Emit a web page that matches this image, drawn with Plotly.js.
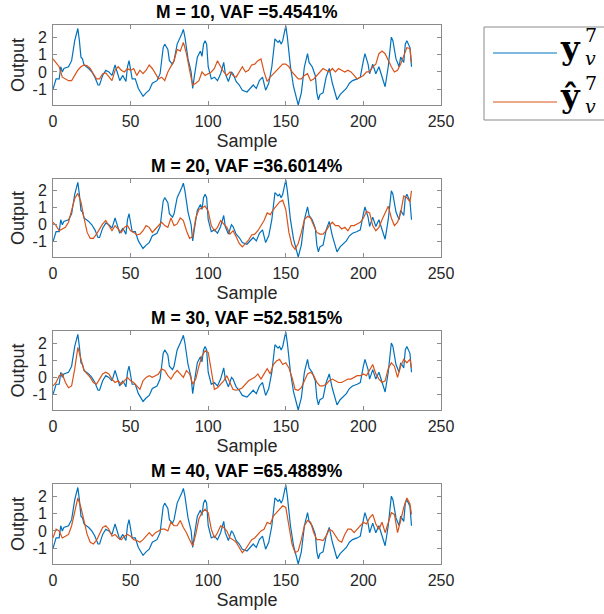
<!DOCTYPE html>
<html>
<head>
<meta charset="utf-8">
<script src="https://cdn.plot.ly/plotly-3.0.1.min.js"></script>
<style>html,body{margin:0;padding:0;background:#fff;}#chart{width:604px;height:614px;}</style>
</head>
<body>
<div id="chart"></div>
<script>
// ---- data ----
const titles = ["M = 10, VAF =5.4541%", "M = 20, VAF =36.6014%", "M = 30, VAF =52.5815%", "M = 40, VAF =65.4889%"];
const xTicks = [0, 50, 100, 150, 200, 250];
const yTicks = [-1, 0, 1, 2];

// measured output (same in every panel)
const blueX = [0,2,4,5,6,7,10,12,14,16,17,18,19,20,23,25,27,29,30,32,34,36,38,40,41,43,45,47,48,49,51,53,55,57,58,60,62,64,67,69,71,72,74,75,77,78,80,83,84,85,87,89,90,91,93,95,96,97,98,99,100,102,104,106,108,110,111,113,115,116,118,120,122,125,127,129,131,133,135,137,139,141,143,145,146,147,148,150,151,153,155,157,158,160,162,164,165,167,169,170,171,172,174,176,178,180,182,183,185,187,189,191,193,196,198,200,201,203,204,206,207,208,210,212,214,216,217,218,219,221,223,224,226,227,228,230,231];
const blueY = [-1.0,-0.4,-0.4,0.3,0.0,0.2,0.3,0.65,1.8,2.5,1.8,0.85,0.75,0.4,0.2,0.0,-0.3,-0.75,-0.75,-0.2,0.1,0.0,-0.2,0.4,0.1,-0.5,-0.2,-0.55,0.3,0.65,-0.4,-0.4,-0.95,-1.3,-1.4,-1.2,-1.05,-0.65,-0.5,-0.1,1.4,1.6,1.3,0.65,0.45,0.65,1.6,2.2,2.45,2.0,0.75,0.0,-0.95,-0.3,0.85,1.2,0.9,1.6,1.8,1.6,0.3,-0.4,-0.3,-0.5,-0.1,0.55,-0.1,-0.55,0.0,-0.1,-0.55,-0.75,-1.05,-1.15,-0.95,-0.75,-0.95,-0.5,-0.3,-1.05,-0.65,0.3,1.9,1.7,1.8,1.6,1.8,2.65,2.0,0.3,-0.85,-1.6,-1.9,-1.2,0.3,1.05,0.55,0.3,-0.2,-1.2,-1.6,-1.3,-1.2,-0.3,0.2,-0.65,-1.3,-1.6,-1.3,-1.15,-0.95,-0.65,-0.5,-0.4,-0.3,0.65,1.05,0.45,-0.1,0.45,0.1,-0.1,0.3,-0.3,-0.85,0.3,1.2,2.0,1.8,0.75,0.3,0.85,0.55,1.6,1.8,1.4,0.3];

// model outputs
const predX = [0,2,4,6,8,10,12,14,16,18,20,22,24,26,28,30,32,34,36,38,40,42,44,46,48,50,52,54,56,58,60,62,64,66,68,70,72,74,76,78,80,82,84,86,88,90,92,94,96,98,100,102,104,106,108,110,112,114,116,118,120,122,124,126,128,130,132,134,136,138,140,142,144,146,148,150,152,154,156,158,160,162,164,166,168,170,172,174,176,178,180,182,184,186,188,190,192,194,196,198,200,202,204,206,208,210,212,214,216,218,220,222,224,226,228,230,231];
const predM10 = [0.75,0.55,0.3,-0.3,-0.4,-0.5,-0.5,-0.2,0.1,0.3,0.4,0.35,0.2,-0.1,-0.4,-0.4,-0.1,-0.05,-0.3,-0.5,0.1,0.3,0.1,0,0.2,0.1,0.2,-0.2,0.1,-0.1,0.1,0.4,0.2,-0.1,-0.4,-0.3,-0.5,0,0.3,0.65,1.3,1.2,1.7,1.05,0.1,-0.75,-0.65,-0.5,0,-0.2,-0.1,0,0.2,0.65,0.3,0,-0.2,0,-0.2,-0.3,0,0.3,0,0.1,0.4,0.45,0.65,0.75,0,-0.55,-0.3,-0.1,0.1,0.3,0.45,0.45,0.3,0,-0.2,-0.4,-0.4,-0.2,-0.1,-0.5,-0.4,-0.2,0,0.2,0.1,0,0.2,0,0.2,0.1,0,0.1,0,-0.2,-0.4,-0.3,-0.2,0,0,0.3,0.45,1.05,1.2,1.05,0.65,0.3,0,0.1,0.45,0.95,1.4,1.35,0.55];
const predM20 = [0.15,-0.05,-0.35,-0.25,-0.15,0.15,0.8,1.55,1.85,1.35,0.4,-0.45,-0.8,-0.8,-0.55,-0.25,0.05,0.25,-0.05,-0.35,-0.05,-0.25,-0.45,-0.15,-0.05,-0.35,-0.45,-0.6,-0.55,-0.35,-0.05,-0.15,-0.45,-0.25,-0.05,0.15,-0.05,-0.15,0.4,-0.05,0.05,0.4,0.25,-0.35,-0.8,-0.7,0.4,0.9,1.0,1.1,0.8,-0.05,-0.35,-0.15,0.25,0.05,-0.15,-0.55,-0.35,-0.7,-1.1,-1.3,-1.1,-0.9,-0.6,-0.55,-0.35,-0.05,0.25,0.7,0.6,0.9,1.15,1.35,1.45,0.9,-0.45,-1.2,-1.45,-1.1,-0.45,0.3,0.5,0.4,-0.05,-0.45,-0.55,-0.55,-0.35,-0.05,0.15,-0.05,-0.05,-0.25,-0.15,-0.35,-0.05,-0.05,0.05,0.15,0.4,0.8,0.7,-0.05,-0.35,-0.15,0.3,0.7,1.1,0.4,-0.05,0.15,0.7,1.7,1.6,1.35,2.0];
const predM30 = [-0.5,-0.3,0.1,0.2,-0.3,-0.6,-0.5,0.5,1.75,1.05,0.4,0.2,0,-0.3,-0.4,-0.1,0.2,0.3,0.2,-0.1,-0.3,-0.2,-0.4,-0.2,0,-0.2,-0.3,-0.5,-0.7,-0.2,0,0.1,0,0.1,0.2,0.5,0.4,0.1,-0.1,0.2,0.4,0.2,0,0.4,0.2,-0.4,-0.1,0.65,1.25,1.55,1.45,0.4,-0.7,-0.6,-0.4,-0.2,0.1,-0.3,-0.7,-0.75,-0.7,-0.6,-0.4,-0.2,-0.1,0,0.2,-0.1,0.2,0.5,0.2,0.75,0.95,1.05,0.75,0.85,0.55,0,-0.7,-0.75,-0.6,-0.2,0.2,0.3,0.1,-0.3,-0.5,-0.5,-0.4,-0.2,-0.1,-0.2,-0.3,-0.3,-0.2,-0.1,-0.1,0,0.1,0.1,0.2,0.1,0.4,0.75,0.2,-0.1,-0.3,-0.2,0.5,0.85,0.65,0,0.65,1.05,0.85,1.05,0.55];
const predM40 = [-0.4,0.1,0,-0.4,-0.3,-0.2,0.3,1.15,1.9,1.35,0.6,-0.2,-0.65,-0.75,-0.55,-0.2,0.2,0.3,0.1,-0.3,-0.2,-0.4,-0.5,-0.3,-0.2,-0.3,-0.5,-0.55,-0.65,-0.5,-0.3,-0.1,-0.3,-0.1,0,0.1,0.1,0,0.5,0.3,0.3,0.6,0.2,-0.1,-0.5,-0.85,-0.2,0.7,1.05,1.25,1.05,0.1,-0.4,-0.1,0.3,0.2,0,-0.4,-0.5,-0.65,-0.95,-1.25,-1.05,-0.75,-0.5,-0.4,-0.2,0,0.1,0.5,0.4,0.85,1.05,1.25,1.45,1.35,0.2,-0.75,-1.25,-1.15,-0.5,0.3,0.6,0.5,-0.1,-0.5,-0.5,-0.55,-0.3,0.1,0,-0.3,-0.55,-0.65,-0.2,0.1,0.1,-0.1,0.1,0.3,0.5,0.4,0.75,0.95,0.4,0.1,0.5,-0.1,0.5,1.05,0.95,-0.1,0.6,1.35,1.9,1.55,0.95];
const predictions = [predM10, predM20, predM30, predM40];

// ---- layout helpers ----
const W = 604, H = 614;
const BLUE = '#0072BD', ORANGE = '#D95319';
const plotLeft = 53, plotRight = 441;
const panelTops = [25, 179, 331, 484];
const panelBottoms = [105, 257, 410, 564];
const px = v => v / W;
const py = v => 1 - v / H;

const traces = [];
const layout = {
  width: W, height: H,
  margin: {l: 0, r: 0, t: 0, b: 0},
  paper_bgcolor: '#fff', plot_bgcolor: '#fff',
  showlegend: false,
  font: {family: 'Liberation Sans, Arial, sans-serif', color: '#262626'},
  annotations: [], shapes: []
};

for (let i = 0; i < 4; i++) {
  const n = i === 0 ? '' : String(i + 1);
  traces.push({x: blueX, y: blueY, type: 'scatter', mode: 'lines', xaxis: 'x' + n, yaxis: 'y' + n,
    line: {color: BLUE, width: 1.2}, hoverinfo: 'skip'});
  traces.push({x: predX, y: predictions[i], type: 'scatter', mode: 'lines', xaxis: 'x' + n, yaxis: 'y' + n,
    line: {color: ORANGE, width: 1.2}, hoverinfo: 'skip'});
  const common = {
    showgrid: false, zeroline: false, showline: true, mirror: 'ticks',
    linecolor: '#8a8a8a', linewidth: 1, ticks: 'inside', ticklen: 4, tickcolor: '#8a8a8a',
    tickfont: {size: 16, color: '#262626'}
  };
  layout['xaxis' + n] = Object.assign({}, common, {
    domain: [px(plotLeft), px(plotRight)], range: [0, 250], anchor: 'y' + n,
    tickvals: xTicks, ticktext: xTicks.map(String), ticklabelstandoff: 2,
    title: {text: 'Sample', font: {size: 18, color: '#262626'}, standoff: 5}
  });
  layout['yaxis' + n] = Object.assign({}, common, {
    domain: [py(panelBottoms[i]), py(panelTops[i])], range: [-1.9, 2.7], anchor: 'x' + n,
    tickvals: yTicks, ticktext: yTicks.map(String), ticklabelstandoff: 2,
    title: {text: 'Output', font: {size: 18, color: '#262626'}, standoff: 3}
  });
  layout.annotations.push({
    text: '<b>' + titles[i] + '</b>', xref: 'paper', yref: 'paper',
    x: px((plotLeft + plotRight) / 2), y: py(panelTops[i] - 13), xanchor: 'center', yanchor: 'middle',
    showarrow: false, font: {size: 17.5, color: '#000'}
  });
}

// legend (box, line samples, math labels)
layout.shapes.push({type: 'rect', xref: 'paper', yref: 'paper', x0: px(484), x1: px(640), y0: py(120), y1: py(27),
  line: {color: '#8a8a8a', width: 1}, fillcolor: 'rgba(0,0,0,0)'});
layout.shapes.push({type: 'line', xref: 'paper', yref: 'paper', x0: px(493), x1: px(557), y0: py(53), y1: py(53),
  line: {color: BLUE, width: 1.2}});
layout.shapes.push({type: 'line', xref: 'paper', yref: 'paper', x0: px(493), x1: px(557), y0: py(102), y1: py(102),
  line: {color: ORANGE, width: 1.2}});
const serif = 'DejaVu Serif, Liberation Serif, serif';
const legendRows = [{sym: 'y', yc: 48}, {sym: 'ŷ', yc: 96}];
legendRows.forEach(r => {
  layout.annotations.push({text: '<b>' + r.sym + '</b>', xref: 'paper', yref: 'paper', x: px(558), y: py(r.yc),
    xanchor: 'left', yanchor: 'middle', showarrow: false, font: {size: 32, family: serif, color: '#000'}});
  layout.annotations.push({text: '7', xref: 'paper', yref: 'paper', x: px(583), y: py(r.yc - 13),
    xanchor: 'left', yanchor: 'middle', showarrow: false, font: {size: 19, family: serif, color: '#000'}});
  layout.annotations.push({text: '<i>v</i>', xref: 'paper', yref: 'paper', x: px(583), y: py(r.yc + 10),
    xanchor: 'left', yanchor: 'middle', showarrow: false, font: {size: 19, family: serif, color: '#000'}});
});

Plotly.newPlot('chart', traces, layout, {staticPlot: true, displayModeBar: false});
</script>
</body>
</html>
